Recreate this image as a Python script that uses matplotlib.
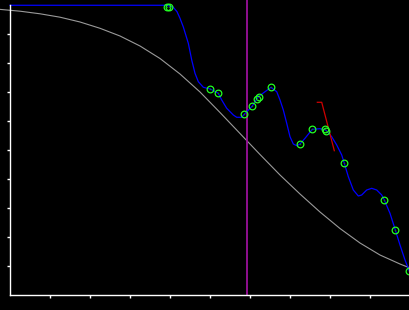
import matplotlib
matplotlib.use("Agg")
import matplotlib.pyplot as plt

# reference curve (gray), read in pixels then mapped to data units
ref_px = [0, 20, 40, 60, 80, 100, 120, 140, 160, 180, 200, 220, 240, 260, 280,
          300, 320, 340, 360, 380, 400, 410]
ref_py = [9.4, 11.2, 13.8, 17.2, 22.0, 28.3, 36.0, 46.0, 58.5, 74.0, 92.0, 112.5,
          133.5, 154.5, 175.0, 194.0, 212.0, 228.5, 243.0, 255.0, 264.0, 268.0]
ref_x = [(p - 10) / 40 for p in ref_px]
ref_y = [(295 - p) / 29 for p in ref_py]

# tracked curve (blue)
trk_x = [0.0, 3.875, 3.95, 4.075, 4.175, 4.25, 4.333, 4.458, 4.543, 4.625, 4.708,
         4.833, 5.008, 5.208, 5.293, 5.418, 5.583, 5.668, 5.793, 5.858, 6.058,
         6.208, 6.525, 6.668, 6.75, 6.833, 6.918, 7.0, 7.083, 7.168, 7.25, 7.375,
         7.558, 7.75, 7.893, 8.043, 8.168, 8.293, 8.358, 8.458, 8.583, 8.708,
         8.793, 8.918, 9.043, 9.168, 9.293, 9.358, 9.5, 9.633, 9.75, 9.875, 9.983]
trk_y = [9.99, 9.99, 9.976, 9.931, 9.769, 9.541, 9.241, 8.679, 8.103, 7.645, 7.355,
         7.162, 7.103, 6.955, 6.724, 6.438, 6.207, 6.128, 6.128, 6.231, 6.517,
         6.838, 7.162, 7.010, 6.724, 6.379, 5.921, 5.459, 5.207, 5.148, 5.207, 5.403,
         5.714, 5.734, 5.690, 5.459, 5.172, 4.828, 4.541, 4.079, 3.621, 3.414,
         3.448, 3.621, 3.679, 3.621, 3.448, 3.276, 2.817, 2.241, 1.724, 1.207, 0.828]

# sample points (green circles)
pts_x = [3.933, 3.983, 5.008, 5.208, 5.858, 6.058, 6.183, 6.213, 6.525, 7.258,
         7.558, 7.875, 7.9, 8.358, 9.358, 9.633, 9.983]
pts_y = [9.941, 9.941, 7.103, 6.955, 6.231, 6.510, 6.766, 6.828, 7.162, 5.197,
         5.717, 5.714, 5.672, 4.541, 3.276, 2.241, 0.828]

# red segment
seg_x = [7.683, 7.793, 8.108]
seg_y = [6.645, 6.645, 4.976]

marker_x = 5.913

fig = plt.figure(figsize=(4.1, 3.1), dpi=100, facecolor="black")
ax = fig.add_axes([0, 0, 1, 1], facecolor="black")
ax.set_xlim(-0.25, 10.0)
ax.set_ylim(-0.517, 10.172)

ax.plot(ref_x, ref_y, color="#9a9a9a", lw=0.8, clip_on=False)
ax.plot([marker_x, marker_x], [0, 10.172], color="#9a109a", lw=1.3)
ax.plot(trk_x, trk_y, color="#0000ff", lw=0.9)
ax.plot(seg_x, seg_y, color="#d00000", lw=0.9)
ax.plot(pts_x, pts_y, ls="none", marker="o", ms=4.8, mfc="none",
        mec="#22ff22", mew=0.9, clip_on=False)
ax.plot(pts_x, pts_y, ls="none", marker="o", ms=1.0, mfc="#118811",
        mec="none", clip_on=False)

for side in ("top", "right"):
    ax.spines[side].set_visible(False)
ax.spines["left"].set_position(("data", 0))
ax.spines["bottom"].set_position(("data", 0))
ax.spines["left"].set_bounds(0, 10)
ax.spines["bottom"].set_bounds(0, 10)
for side in ("left", "bottom"):
    ax.spines[side].set_color("white")
    ax.spines[side].set_linewidth(1.0)

ax.set_xticks(range(1, 10))
ax.set_yticks(range(1, 10))
ax.tick_params(colors="white", direction="out", length=2.5, width=1.0,
               labelleft=False, labelbottom=False)

fig.savefig("out.png", dpi=100, facecolor="black")
